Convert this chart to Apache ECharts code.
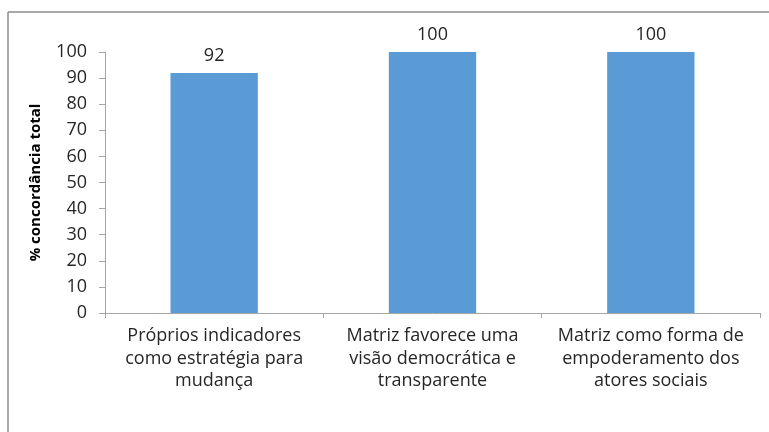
<!DOCTYPE html>
<html>
<head>
<meta charset="utf-8">
<script src="https://cdn.jsdelivr.net/npm/echarts@6/dist/echarts.min.js"></script>
<style>
    html, body { margin: 0; padding: 0; background: #fff; }
    #chart { width: 769px; height: 432px; }
</style>
</head>
<body>
<div id="chart"></div>
<script>
// 类目与数值
var categories = [
    'Próprios indicadores\ncomo estratégia para\nmudança',
    'Matriz favorece uma\nvisão democrática e\ntransparente',
    'Matriz como forma de\nempoderamento dos\natores sociais'
];
var values = [92, 100, 100];
var yTicks = [0, 10, 20, 30, 40, 50, 60, 70, 80, 90, 100];

(function () {
    var myChart = echarts.init(document.getElementById('chart'));

    var option = {
        animation: false,
        textStyle: { fontFamily: 'Open Sans' },
        grid: {//图表四周留白
            top: 52,
            right: 9,
            bottom: 119,
            left: 105
        },
        // 外框线（上边和左边）
        graphic: [{
            type: 'line',
            shape: { x1: 8, y1: 12, x2: 769, y2: 12 },
            style: { stroke: '#8c8c8c', lineWidth: 1.5 }
        }, {
            type: 'line',
            shape: { x1: 8, y1: 12, x2: 8, y2: 432 },
            style: { stroke: '#8c8c8c', lineWidth: 1.5 }
        }],
        xAxis: {
            type: 'category',
            data: categories,
            axisTick: { show: true, length: 5, lineStyle: { color: '#a6a6a6' } },
            axisLine: { lineStyle: { color: '#a6a6a6' } },
            axisLabel: {
                color: '#262626',
                fontSize: 18,
                lineHeight: 22.5,
                margin: 12,
                interval: 0
            }
        },
        yAxis: {
            type: 'value',
            min: yTicks[0],
            max: yTicks[yTicks.length - 1],
            interval: 10,
            name: '% concordância total',
            nameLocation: 'middle',
            nameGap: 62,
            nameTextStyle: {
                color: '#000',
                fontWeight: 'bold',
                fontSize: 15,
                fontFamily: 'Open Sans'
            },
            splitLine: { show: false },
            axisLine: { show: true, lineStyle: { color: '#a6a6a6' } },
            axisTick: { show: true, length: 6, lineStyle: { color: '#a6a6a6' } },
            axisLabel: {
                color: '#262626',
                fontSize: 18,
                margin: 18
            }
        },
        series: [{
            type: 'bar',
            data: values,
            barWidth: '40%',
            itemStyle: { color: '#5b9bd5' },
            label: {
                show: true,
                position: 'top',
                distance: 8,
                color: '#262626',
                fontSize: 18
            }
        }]
    };

    myChart.setOption(option);
})();
</script>
</body>
</html>
